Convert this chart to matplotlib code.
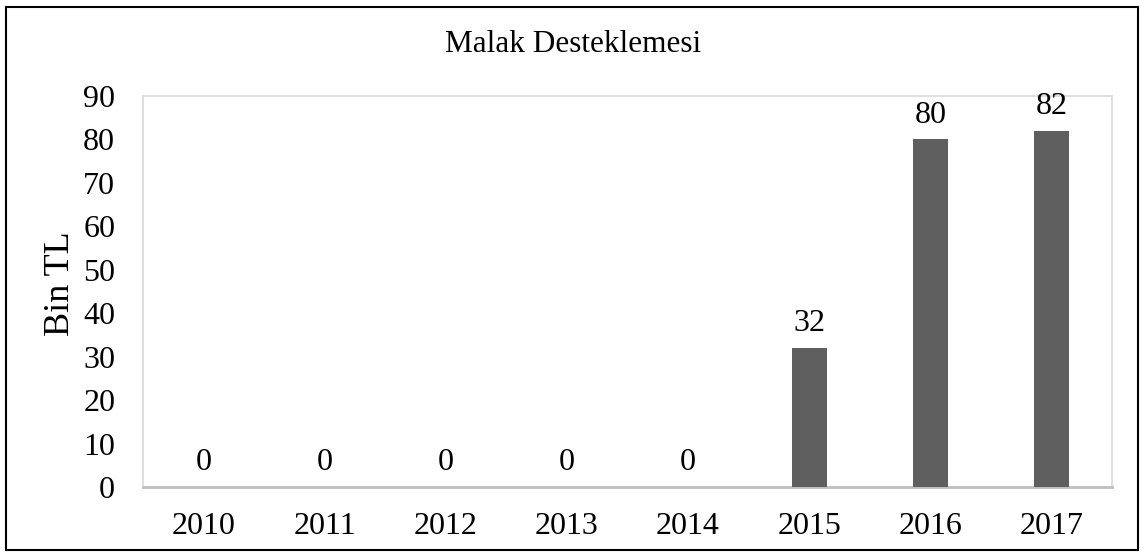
import matplotlib.pyplot as plt
from matplotlib.patches import Rectangle

years = ['2010', '2011', '2012', '2013', '2014', '2015', '2016', '2017']
values = [0, 0, 0, 0, 0, 32, 80, 82]
yticks = [0, 10, 20, 30, 40, 50, 60, 70, 80, 90]

plt.rcParams['font.family'] = ['Liberation Serif', 'DejaVu Serif']

fig = plt.figure(figsize=(11.44, 5.6), dpi=100)
ax = fig.add_axes([0.125, 0.1304, 0.847, 0.6982])

x = range(len(years))
bars = ax.bar(x, values, width=0.29, color='#5f5f5f', zorder=3)

for xi, v in zip(x, values):
    ax.annotate(str(v), (xi, v), xytext=(0, 7), textcoords='offset points',
                ha='center', va='bottom', fontsize=23, clip_on=False)

ax.set_xlim(-0.5, len(years) - 0.5)
ax.set_ylim(0, 90)
ax.set_yticks(yticks)
ax.set_xticks(list(x))
ax.set_xticklabels(years)
ax.tick_params(axis='both', length=0, labelsize=23)
ax.tick_params(axis='y', pad=20)
ax.tick_params(axis='x', pad=18)

for side in ['left', 'right', 'top']:
    ax.spines[side].set_color('#d9d9d9')
    ax.spines[side].set_linewidth(1.2)
ax.spines['bottom'].set_color('#bfbfbf')
ax.spines['bottom'].set_linewidth(2)

ax.set_ylabel('Bin TL', fontsize=26)
ax.yaxis.set_label_coords(-0.068, 0.52)
fig.text(0.501, 0.92, 'Malak Desteklemesi', ha='center', va='center', fontsize=22.5)

# outer chart frame
fig.patches.append(Rectangle((0.005, 0.018), 0.99, 0.97, transform=fig.transFigure,
                             fill=False, edgecolor='black', linewidth=1.5))

fig.savefig('out.png', dpi=100)
